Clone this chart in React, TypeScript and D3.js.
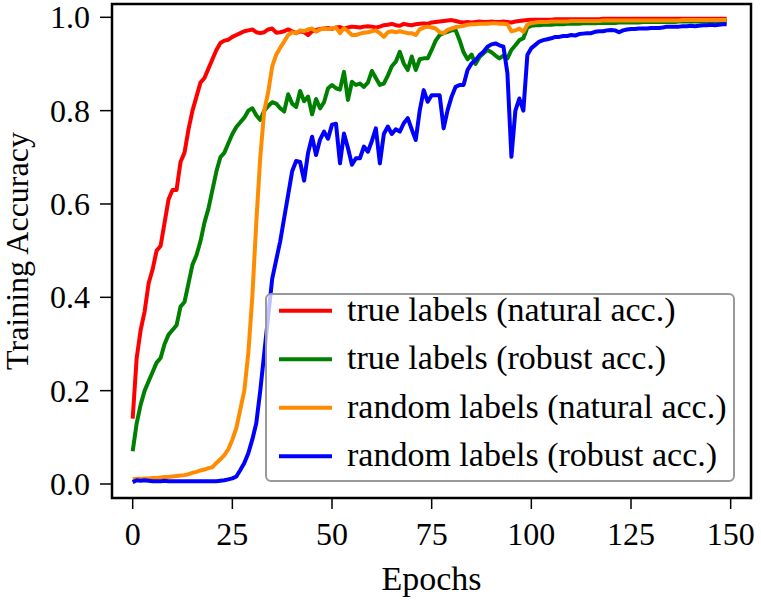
import React from "react";
import { scaleLinear, line } from "d3";

// training accuracy per epoch (0..149)
const trueNatural = [
  0.14, 0.27, 0.33, 0.37, 0.43, 0.46, 0.50, 0.51, 0.56, 0.61,
  0.63, 0.63, 0.69, 0.71, 0.76, 0.80, 0.83, 0.86, 0.87, 0.89,
  0.91, 0.93, 0.945, 0.95, 0.952, 0.958, 0.962, 0.966, 0.970, 0.972,
  0.974, 0.968, 0.966, 0.968, 0.974, 0.976, 0.967, 0.968, 0.970, 0.974,
  0.970, 0.966, 0.970, 0.968, 0.962, 0.970, 0.973, 0.975, 0.976, 0.977,
  0.975, 0.978, 0.979, 0.976, 0.978, 0.980, 0.979, 0.978, 0.980, 0.981,
  0.980, 0.978, 0.980, 0.983, 0.984, 0.986, 0.983, 0.982, 0.986, 0.984,
  0.983, 0.985, 0.986, 0.987, 0.986, 0.989, 0.990, 0.991, 0.992, 0.993,
  0.994, 0.992, 0.990, 0.989, 0.990, 0.989, 0.990, 0.991, 0.990, 0.990,
  0.991, 0.990, 0.990, 0.991, 0.990, 0.989, 0.991, 0.992, 0.993, 0.994,
  0.995, 0.995, 0.995, 0.995, 0.995, 0.995, 0.996, 0.996, 0.996, 0.996,
  0.996, 0.996, 0.996, 0.996, 0.996, 0.996, 0.996, 0.996, 0.997, 0.997,
  0.997, 0.997, 0.997, 0.997, 0.997, 0.997, 0.997, 0.997, 0.997, 0.997,
  0.997, 0.997, 0.997, 0.997, 0.997, 0.997, 0.997, 0.997, 0.997, 0.997,
  0.997, 0.997, 0.997, 0.997, 0.997, 0.997, 0.997, 0.997, 0.997, 0.997,
];

const trueRobust = [
  0.07, 0.13, 0.17, 0.20, 0.22, 0.24, 0.26, 0.27, 0.30, 0.32,
  0.33, 0.34, 0.38, 0.39, 0.43, 0.47, 0.49, 0.52, 0.56, 0.59,
  0.63, 0.67, 0.70, 0.71, 0.73, 0.75, 0.765, 0.775, 0.785, 0.80,
  0.805, 0.790, 0.780, 0.800, 0.810, 0.818, 0.815, 0.805, 0.798, 0.835,
  0.815, 0.808, 0.842, 0.820, 0.830, 0.792, 0.825, 0.805, 0.818, 0.848,
  0.855, 0.848, 0.845, 0.883, 0.823, 0.862, 0.855, 0.858, 0.851, 0.860,
  0.885, 0.870, 0.855, 0.858, 0.875, 0.895, 0.905, 0.926, 0.901, 0.887,
  0.916, 0.887, 0.910, 0.912, 0.912, 0.930, 0.950, 0.962, 0.966, 0.969,
  0.972, 0.973, 0.951, 0.925, 0.910, 0.920, 0.900, 0.915, 0.923, 0.930,
  0.925, 0.918, 0.912, 0.918, 0.912, 0.930, 0.940, 0.951, 0.955, 0.978,
  0.982, 0.983, 0.983, 0.984, 0.984, 0.984, 0.985, 0.985, 0.985, 0.986,
  0.986, 0.986, 0.986, 0.987, 0.987, 0.987, 0.987, 0.988, 0.988, 0.988,
  0.988, 0.988, 0.989, 0.989, 0.989, 0.989, 0.989, 0.989, 0.990, 0.990,
  0.990, 0.990, 0.990, 0.990, 0.990, 0.990, 0.990, 0.991, 0.991, 0.991,
  0.991, 0.991, 0.991, 0.991, 0.991, 0.991, 0.991, 0.991, 0.991, 0.991,
];

const randomNatural = [
  0.010, 0.011, 0.011, 0.012, 0.012, 0.013, 0.013, 0.014, 0.015, 0.015,
  0.016, 0.017, 0.018, 0.019, 0.021, 0.024, 0.026, 0.029, 0.031, 0.034,
  0.036, 0.045, 0.053, 0.062, 0.075, 0.095, 0.120, 0.160, 0.200, 0.280,
  0.400, 0.560, 0.700, 0.800, 0.840, 0.895, 0.920, 0.935, 0.948, 0.962,
  0.968, 0.966, 0.972, 0.970, 0.974, 0.976, 0.969, 0.974, 0.976, 0.975,
  0.976, 0.978, 0.966, 0.977, 0.970, 0.962, 0.962, 0.965, 0.967, 0.968,
  0.970, 0.972, 0.966, 0.958, 0.968, 0.970, 0.968, 0.970, 0.968, 0.966,
  0.966, 0.962, 0.974, 0.978, 0.980, 0.978, 0.976, 0.968, 0.966, 0.973,
  0.976, 0.979, 0.980, 0.982, 0.984, 0.985, 0.985, 0.986, 0.986, 0.986,
  0.987, 0.987, 0.986, 0.986, 0.985, 0.970, 0.972, 0.976, 0.969, 0.984,
  0.988, 0.989, 0.990, 0.990, 0.990, 0.991, 0.991, 0.991, 0.991, 0.991,
  0.992, 0.992, 0.992, 0.992, 0.992, 0.992, 0.992, 0.992, 0.993, 0.993,
  0.993, 0.993, 0.993, 0.993, 0.993, 0.993, 0.993, 0.993, 0.993, 0.993,
  0.993, 0.993, 0.993, 0.993, 0.993, 0.993, 0.993, 0.993, 0.994, 0.994,
  0.994, 0.994, 0.994, 0.994, 0.994, 0.994, 0.994, 0.994, 0.994, 0.994,
];

const randomRobust = [
  0.004, 0.008, 0.007, 0.008, 0.007, 0.006, 0.006, 0.006, 0.007, 0.006,
  0.006, 0.006, 0.006, 0.006, 0.006, 0.006, 0.006, 0.006, 0.006, 0.006,
  0.006, 0.006, 0.007, 0.008, 0.010, 0.012, 0.016, 0.030, 0.045, 0.066,
  0.095, 0.130, 0.200, 0.280, 0.360, 0.440, 0.480, 0.520, 0.570, 0.620,
  0.670, 0.692, 0.690, 0.650, 0.710, 0.744, 0.705, 0.738, 0.755, 0.740,
  0.770, 0.772, 0.687, 0.751, 0.720, 0.684, 0.698, 0.698, 0.723, 0.712,
  0.735, 0.762, 0.687, 0.750, 0.766, 0.750, 0.760, 0.755, 0.773, 0.784,
  0.760, 0.737, 0.800, 0.844, 0.819, 0.833, 0.833, 0.833, 0.762, 0.801,
  0.830, 0.851, 0.855, 0.855, 0.887, 0.901, 0.908, 0.919, 0.926, 0.937,
  0.942, 0.944, 0.940, 0.937, 0.880, 0.701, 0.800, 0.826, 0.800, 0.919,
  0.934, 0.941, 0.948, 0.951, 0.953, 0.955, 0.958, 0.958, 0.960, 0.960,
  0.962, 0.961, 0.964, 0.965, 0.966, 0.966, 0.969, 0.970, 0.970, 0.972,
  0.973, 0.972, 0.968, 0.972, 0.974, 0.975, 0.975, 0.976, 0.976, 0.976,
  0.977, 0.977, 0.977, 0.978, 0.980, 0.980, 0.980, 0.980, 0.981, 0.981,
  0.982, 0.981, 0.982, 0.983, 0.983, 0.984, 0.983, 0.984, 0.985, 0.985,
];

const seriesNames = [
  "true labels (natural acc.)",
  "true labels (robust acc.)",
  "random labels (natural acc.)",
  "random labels (robust acc.)",
];
const seriesColors = ["#ff0000", "#008000", "#ff8c00", "#0000ff"];
const seriesValues = [trueNatural, trueRobust, randomNatural, randomRobust];

const xTicks = [0, 25, 50, 75, 100, 125, 150];
const yTicks = [0, 0.2, 0.4, 0.6, 0.8, 1.0];

const W = 761;
const H = 602;
const plot = { left: 112, right: 751, top: 4, bottom: 498 };
const font = '"Liberation Serif", "Times New Roman", Times, "DejaVu Serif", serif';

export default function App() {
  const x = scaleLinear().domain([-5.19, 155.1]).range([plot.left, plot.right]);
  const y = scaleLinear().domain([-0.03, 1.0285]).range([plot.bottom, plot.top]);

  const path = line<number>()
    .x((_, i) => x(i))
    .y((d) => y(d));

  const legend = { x: 266, y: 294, w: 468, h: 187, row: 48.5 };

  return (
    <svg
      width={W}
      height={H}
      style={{ position: "absolute", left: 0, top: 0, background: "#fff", fontFamily: font }}
    >
      <defs>
        <clipPath id="plot-area">
          <rect x={plot.left} y={plot.top} width={plot.right - plot.left} height={plot.bottom - plot.top} />
        </clipPath>
      </defs>

      <g clipPath="url(#plot-area)">
        {seriesValues.map((vals, i) => (
          <path
            key={i}
            d={path(vals) ?? ""}
            fill="none"
            stroke={seriesColors[i]}
            strokeWidth={4}
            strokeLinejoin="round"
          />
        ))}
      </g>

      {/* frame */}
      <rect
        x={plot.left}
        y={plot.top}
        width={plot.right - plot.left}
        height={plot.bottom - plot.top}
        fill="none"
        stroke="#000"
        strokeWidth={2.5}
      />

      {/* x axis */}
      {xTicks.map((t) => (
        <g key={t} transform={`translate(${x(t)},0)`}>
          <line y1={plot.bottom} y2={plot.bottom + 11} stroke="#000" strokeWidth={1.5} />
          <text y={545} textAnchor="middle" fontSize={32} fill="#000">
            {t}
          </text>
        </g>
      ))}
      <text x={(plot.left + plot.right) / 2} y={590} textAnchor="middle" fontSize={34} fill="#000">
        Epochs
      </text>

      {/* y axis */}
      {yTicks.map((t) => (
        <g key={t} transform={`translate(0,${y(t)})`}>
          <line x1={plot.left - 12} x2={plot.left} stroke="#000" strokeWidth={1.5} />
          <text x={90} dy="0.34em" textAnchor="end" fontSize={32} fill="#000">
            {t.toFixed(1)}
          </text>
        </g>
      ))}
      <text
        transform={`translate(28,${(plot.top + plot.bottom) / 2}) rotate(-90)`}
        textAnchor="middle"
        fontSize={32}
        fill="#000"
      >
        Training Accuracy
      </text>

      {/* legend */}
      <rect
        x={legend.x}
        y={legend.y}
        width={legend.w}
        height={legend.h}
        rx={5}
        fill="#fff"
        fillOpacity={0.75}
        stroke="#999"
        strokeWidth={2}
      />
      {seriesNames.map((name, i) => {
        const ly = 310.7 + i * legend.row;
        return (
          <g key={name}>
            <line x1={279} x2={332} y1={ly} y2={ly} stroke={seriesColors[i]} strokeWidth={4} />
            <text x={347} y={ly + 10} fontSize={34} fill="#000">
              {name}
            </text>
          </g>
        );
      })}
    </svg>
  );
}
